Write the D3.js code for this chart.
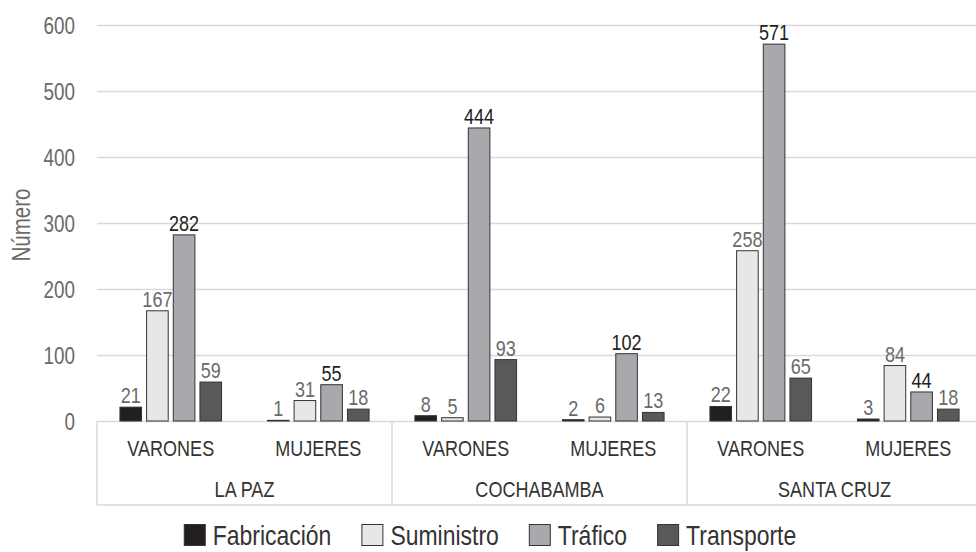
<!DOCTYPE html>
<html>
<head>
<meta charset="utf-8">
<script src="https://cdn.jsdelivr.net/npm/d3@7"></script>
<style>
  html, body { margin: 0; padding: 0; background: #fff; }
  svg { display: block; }
  text { font-family: "Liberation Sans", Arial, sans-serif; }
</style>
</head>
<body>
<svg id="chart" width="976" height="552"></svg>
<script>
const regions = ["LA PAZ", "COCHABAMBA", "SANTA CRUZ"];
const sexes = ["VARONES", "MUJERES"];
const seriesNames = ["Fabricación", "Suministro", "Tráfico", "Transporte"];
const fabricacion = [21, 1, 8, 2, 22, 3];
const suministro  = [167, 31, 5, 6, 258, 84];
const trafico     = [282, 55, 444, 102, 571, 44];
const transporte  = [59, 18, 93, 13, 65, 18];
const yTicks = [0, 100, 200, 300, 400, 500, 600];
const yTitle = "Número";

(function () {
const seriesValues = [fabricacion, suministro, trafico, transporte];
const fills = ["#231f20", "#e6e7e8", "#a7a9ac", "#58595b"];
const labelColors = ["#6a6a6a", "#6a6a6a", "#222", "#6a6a6a"];
const SX = 0.82; // condensed look

const svg = d3.select("#chart");
const pLeft = 97, pRight = 982, pTop = 25, pBottom = 421, axisBottom = 505;

function addText(parent, x, y, str, size, fill, anchor) {
  return parent.append("text")
    .attr("transform", `translate(${x},${y}) scale(${SX},1)`)
    .attr("text-anchor", anchor || "middle")
    .attr("fill", fill)
    .style("font-size", size + "px")
    .text(str);
}

const keys = [];
regions.forEach(r => sexes.forEach(s => keys.push(r + "|" + s)));

const x0 = d3.scaleBand().domain(keys).range([pLeft, pRight]).padding(0);
const x1 = d3.scaleBand().domain(seriesNames).range([0, x0.bandwidth()]).paddingInner(0.19).paddingOuter(0.86);
const xr = d3.scaleBand().domain(regions).range([pLeft, pRight]).padding(0);
const y = d3.scaleLinear().domain([0, 600]).range([pBottom, pTop]);

// gridlines + tick labels
const yAxis = d3.axisLeft(y).tickValues(yTicks).tickSize(-(pRight - pLeft)).tickFormat(d3.format("d"));
const gy = svg.append("g").attr("transform", `translate(${pLeft},0)`).call(yAxis);
gy.select(".domain").remove();
gy.selectAll(".tick line").attr("stroke", "#d9d9d9").attr("stroke-width", 1.5);
gy.selectAll(".tick text")
  .attr("x", 0)
  .attr("transform", `translate(-22,0) scale(${SX},1)`)
  .attr("fill", "#6a6a6a").attr("font-family", null)
  .style("font-size", "23px").attr("dy", "0.36em");

// y title
svg.append("text")
  .attr("transform", `translate(30,225) rotate(-90) scale(${SX},1)`)
  .attr("text-anchor", "middle")
  .attr("fill", "#6a6a6a")
  .style("font-size", "25px")
  .text(yTitle);

// category axis box
const axG = svg.append("g");
axG.append("line").attr("x1", pLeft).attr("x2", pRight).attr("y1", axisBottom).attr("y2", axisBottom)
  .attr("stroke", "#d9d9d9").attr("stroke-width", 1.5);
regions.forEach((r) => {
  const xs = xr(r);
  axG.append("line").attr("x1", xs).attr("x2", xs).attr("y1", pBottom).attr("y2", axisBottom)
    .attr("stroke", "#d9d9d9").attr("stroke-width", 1.5);
  addText(axG, xs + xr.bandwidth() / 2, 497, r, 22, "#333");
});
keys.forEach(k => {
  addText(axG, x0(k) + x0.bandwidth() / 2, 456, k.split("|")[1], 22, "#333");
});

// bars
seriesNames.forEach((s, si) => {
  const g = svg.append("g");
  keys.forEach((k, ki) => {
    const v = seriesValues[si][ki];
    const bx = x0(k) + x1(s);
    g.append("rect")
      .attr("x", bx).attr("y", y(v))
      .attr("width", x1.bandwidth()).attr("height", y(0) - y(v))
      .attr("fill", fills[si]).attr("stroke", "#333").attr("stroke-width", 1);
    addText(g, bx + x1.bandwidth() / 2, y(v) - 4, v, 22, labelColors[si]);
  });
});

// legend
const leg = svg.append("g");
let cx = 0;
seriesNames.forEach((s, si) => {
  const it = leg.append("g");
  it.append("rect").attr("x", 0.5).attr("y", -20.5).attr("width", 21).attr("height", 21)
    .attr("fill", fills[si]).attr("stroke", "#333").attr("stroke-width", 1);
  const t = addText(it, 29, 0, s, 28, "#333", "start");
  const w = 29 + t.node().getComputedTextLength() * SX;
  it.attr("transform", `translate(${cx},545)`);
  cx += w + 30;
});
const totalW = cx - 30;
leg.attr("transform", `translate(${490 - totalW / 2},0)`);
})();
</script>
</body>
</html>
